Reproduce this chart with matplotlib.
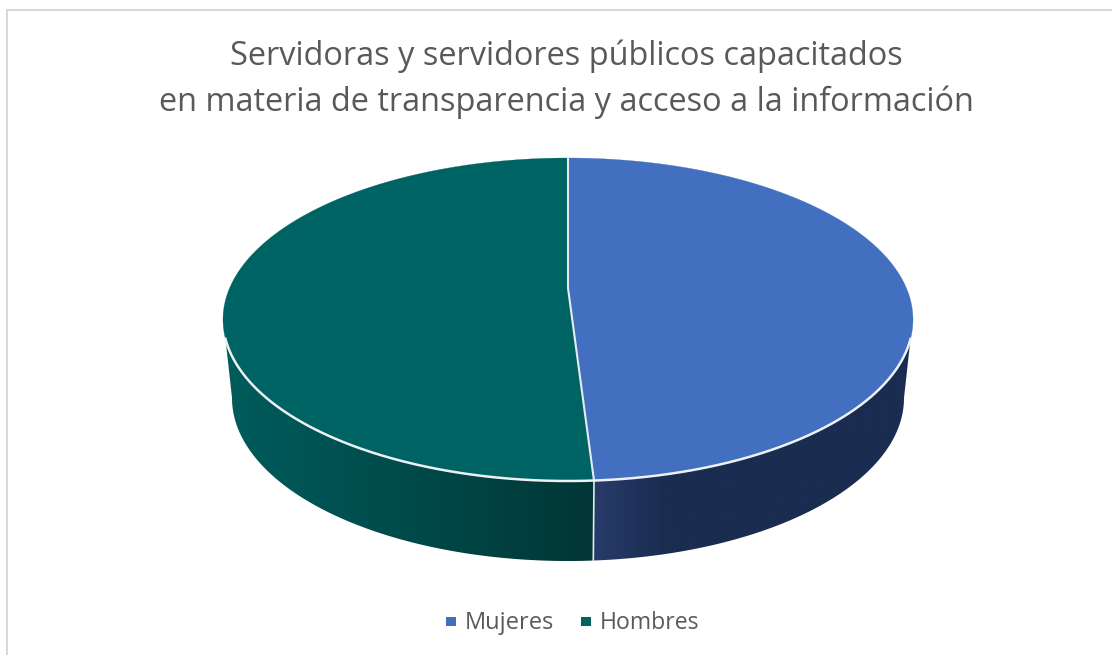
import numpy as np
import matplotlib
matplotlib.use('Agg')
import matplotlib.pyplot as plt
from matplotlib.colors import LinearSegmentedColormap
from matplotlib.patches import Polygon

plt.rcParams['font.family'] = ['Open Sans', 'DejaVu Sans']

title = 'Servidoras y servidores públicos capacitados\nen materia de transparencia y acceso a la información'
categories = ['Mujeres', 'Hombres']
values = [48.8, 51.2]
colors = ['#426FBF', '#006363']
side_colors = [['#283C6A', '#1A2C50', '#1A2C50'], ['#005C5C', '#004A4A', '#003635']]

# pie geometry in pixels
cx, top_cy, top_rx, top_ry = 568, 319.5, 345, 161.5
vertex_y = 288
bot_cy, bot_rx, bot_ry = 398, 336, 163


def top_pt(t):
    return cx + top_rx * np.sin(t), top_cy - top_ry * np.cos(t)


def bot_pt(t):
    return cx + bot_rx * np.sin(t), bot_cy - bot_ry * np.cos(t)


fig = plt.figure(figsize=(11.12, 6.55), dpi=100)
ax = fig.add_axes([0, 0, 1, 1])

# frame
ax.plot([7, 7, 1112], [655, 10, 10], color='#D9D9D9', lw=1.5)

angles = np.cumsum([0] + values) / sum(values) * 2 * np.pi
split = angles[1]

# walls: top edge runs between the silhouette points, bottom edge out to the widest point
sil = 0.12
top_ranges = [(np.pi / 2 + sil, split), (split, 3 * np.pi / 2 - sil)]
bot_ranges = [(np.pi / 2, split), (split, 3 * np.pi / 2)]
for i in range(2):
    xt, yt = top_pt(np.linspace(*top_ranges[i], 200))
    xb, yb = bot_pt(np.linspace(*bot_ranges[i], 200)[::-1])
    poly = Polygon(np.column_stack([np.r_[xt, xb], np.r_[yt, yb]]), fc='none', ec='none')
    ax.add_patch(poly)
    cmap = LinearSegmentedColormap.from_list('side%d' % i, side_colors[i])
    if i == 0:
        extent = [xb.min() - 1, xb.max() + 12, 570, 300]
        grad = np.minimum(np.linspace(0, 1, 512) * 2.2, 1)
    else:
        extent = [xt.min() - 1, xb.max() + 1, 570, 300]
        grad = np.linspace(0, 1, 512)
    im = ax.imshow(grad[None, :], cmap=cmap, vmin=0, vmax=1, aspect='auto', extent=extent, zorder=2)
    im.set_clip_path(poly)

ax.set_xlim(0, 1112)
ax.set_ylim(655, 0)
ax.axis('off')

# seam on the wall
sx0, sy0 = top_pt(split)
sx1, sy1 = bot_pt(split)
ax.plot([sx0, sx1], [sy0, sy1], color='#E4E9EA', lw=1.2, zorder=3)

# top faces
for i in range(2):
    xt, yt = top_pt(np.linspace(angles[i], angles[i + 1], 400))
    pts = np.column_stack([np.r_[cx, xt], np.r_[vertex_y, yt]])
    ax.add_patch(Polygon(pts, fc=colors[i], ec=colors[i], lw=0.2, zorder=4))

# white lines: the two radii and the front rim
xr, yr = top_pt(np.array([0, split]))
ax.plot([xr[0], cx, xr[1]], [yr[0], vertex_y, yr[1]], color='#E6EBF0', lw=1.5, zorder=5)
xa, ya = top_pt(np.linspace(np.pi / 2 + sil, 3 * np.pi / 2 - sil, 400))
ax.plot(xa, ya, color='#EEF1F4', lw=1.8, zorder=5)

# title and legend
ax.text(566, 79, title, ha='center', va='center', fontsize=23.4, color='#595959',
        linespacing=1.5, zorder=6)
ax.scatter([451, 586], [621.5, 621.5], marker='s', s=42, c=colors, zorder=6, linewidths=0)
ax.text(465, 629, categories[0], ha='left', va='baseline', fontsize=17, color='#595959')
ax.text(600, 629, categories[1], ha='left', va='baseline', fontsize=16.6, color='#595959')

fig.savefig('out.png', dpi=100)
